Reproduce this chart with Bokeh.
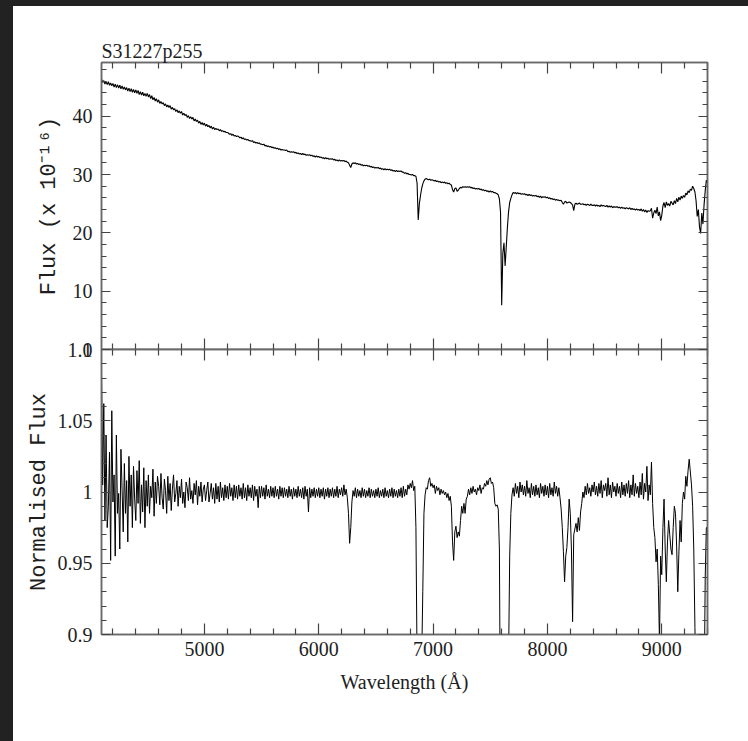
import numpy as np
from bokeh.plotting import figure
from bokeh.models import Range1d, LinearAxis, FixedTicker, CustomJSTickFormatter
from bokeh.layouts import column
from bokeh.embed import file_html
from bokeh.resources import INLINE

# ---------------- data ----------------
TITLE = "S31227p255"
X_MIN, X_MAX = 4100, 9400
WL_START, WL_STEP = 4100, 10

# observed flux (x 1e-16), sampled every 10 A from 4100 A
flux = [
    46.4, 45.8, 46.1, 45.5, 45.9, 45.4, 45.9, 45.3, 45.7, 45.2,
    45.6, 45.0, 45.5, 44.9, 45.4, 44.8, 45.3, 44.7, 45.2, 44.6,
    45.0, 44.5, 44.9, 44.3, 44.8, 44.2, 44.7, 44.1, 44.6, 44.0,
    44.5, 43.9, 44.4, 43.7, 44.2, 43.6, 44.1, 43.5, 43.9, 43.4,
    43.9, 43.3, 43.7, 43.0, 43.5, 42.8, 43.2, 42.6, 43.0, 42.4,
    42.8, 42.2, 42.5, 42.1, 42.3, 41.8, 42.1, 41.6, 41.9, 41.5,
    41.8, 41.2, 41.5, 41.1, 41.3, 40.8, 41.1, 40.6, 40.9, 40.5,
    40.8, 40.2, 40.5, 40.1, 40.3, 39.8, 40.1, 39.6, 39.9, 39.5,
    39.8, 39.2, 39.5, 39.1, 39.3, 38.8, 39.1, 38.6, 38.9, 38.5,
    38.8, 38.3, 38.6, 38.2, 38.4, 38.0, 38.3, 37.8, 38.1, 37.7,
    37.9, 37.7, 37.8, 37.5, 37.7, 37.4, 37.5, 37.3, 37.4, 37.2,
    37.2, 37.1, 36.9, 37.0, 36.7, 36.9, 36.6, 36.7, 36.5, 36.6,
    36.5, 36.3, 36.4, 36.1, 36.3, 36.0, 36.1, 35.9, 36.0, 35.8,
    35.8, 35.7, 35.8, 35.5, 35.6, 35.4, 35.5, 35.3, 35.4, 35.2,
    35.2, 35.1, 35.2, 34.9, 35.0, 34.8, 34.9, 34.7, 34.8, 34.6,
    34.7, 34.5, 34.6, 34.4, 34.5, 34.3, 34.4, 34.2, 34.3, 34.2,
    34.2, 34.1, 34.2, 33.9, 34.0, 33.8, 33.9, 33.8, 33.9, 33.7,
    33.8, 33.6, 33.7, 33.5, 33.6, 33.4, 33.6, 33.4, 33.5, 33.3,
    33.4, 33.3, 33.4, 33.2, 33.3, 33.1, 33.2, 33.0, 33.2, 33.0,
    33.1, 32.9, 33.0, 32.8, 32.9, 32.7, 32.9, 32.7, 32.8, 32.6,
    32.7, 32.6, 32.7, 32.5, 32.6, 32.4, 32.5, 32.3, 32.5, 32.3,
    32.4, 32.3, 32.4, 32.2, 32.3, 32.1, 32.0, 31.6, 31.2, 31.8,
    32.0, 31.9, 32.0, 31.8, 31.9, 31.7, 31.8, 31.6, 31.7, 31.5,
    31.6, 31.5, 31.6, 31.4, 31.5, 31.3, 31.4, 31.2, 31.3, 31.1,
    31.2, 31.1, 31.2, 31.0, 31.1, 30.9, 31.0, 30.8, 31.0, 30.8,
    30.9, 30.8, 30.9, 30.7, 30.8, 30.6, 30.7, 30.5, 30.7, 30.5,
    30.6, 30.5, 30.6, 30.4, 30.4, 30.2, 30.3, 30.1, 30.2, 30.0,
    30.0, 29.9, 30.0, 29.8, 29.8, 29.7, 28.5, 22.2, 25.0, 26.4,
    27.6, 28.4, 28.9, 29.2, 29.3, 29.2, 29.1, 29.2, 29.0, 29.1,
    29.0, 28.9, 29.0, 28.8, 28.9, 28.7, 28.8, 28.6, 28.7, 28.6,
    28.7, 28.5, 28.6, 28.4, 28.5, 28.3, 28.2, 27.4, 27.0, 27.6,
    27.7, 27.1, 27.3, 27.6, 27.8, 27.7, 27.9, 27.8, 27.9, 27.8,
    27.9, 27.8, 27.9, 27.7, 27.8, 27.6, 27.7, 27.5, 27.6, 27.5,
    27.6, 27.4, 27.5, 27.3, 27.4, 27.2, 27.3, 27.1, 27.2, 27.0,
    27.2, 27.0, 27.1, 26.9, 26.9, 26.8, 26.7, 26.5, 25.8, 23.5,
    7.6, 16.5, 18.3, 14.3, 17.6, 20.9, 23.6, 25.2, 25.9, 26.5,
    26.9, 26.8, 26.9, 26.7, 26.9, 26.7, 26.8, 26.6, 26.7, 26.6,
    26.7, 26.5, 26.6, 26.4, 26.6, 26.4, 26.5, 26.3, 26.4, 26.3,
    26.4, 26.2, 26.3, 26.1, 26.3, 26.0, 26.2, 26.1, 26.2, 26.0,
    26.1, 25.9, 26.0, 25.8, 25.9, 25.7, 25.8, 25.6, 25.7, 25.6,
    25.6, 25.5, 25.6, 25.2, 24.9, 25.3, 25.4, 25.1, 25.2, 25.3,
    25.2, 25.0, 24.8, 23.8, 24.9, 25.1, 24.9, 25.0, 25.1, 24.9,
    24.9, 25.0, 24.8, 24.9, 24.7, 24.9, 24.8, 24.7, 24.9, 24.7,
    24.7, 24.8, 24.6, 24.8, 24.6, 24.7, 24.5, 24.8, 24.6, 24.7,
    24.6, 24.5, 24.7, 24.4, 24.6, 24.4, 24.6, 24.3, 24.5, 24.4,
    24.4, 24.5, 24.3, 24.4, 24.2, 24.4, 24.2, 24.3, 24.1, 24.3,
    24.2, 24.1, 24.3, 24.0, 24.2, 24.0, 24.1, 23.9, 24.1, 23.9,
    24.0, 23.8, 24.1, 23.7, 24.0, 23.6, 23.9, 23.5, 23.8, 23.7,
    23.8, 24.2, 22.5, 23.4, 23.9, 23.3, 24.4, 22.9, 23.6, 22.1,
    23.0, 24.6, 25.2, 24.3, 25.3, 24.7, 25.0, 24.6, 25.4, 25.1,
    24.8, 25.5, 25.0, 25.9, 25.3, 26.1, 25.6, 26.3, 25.9, 26.4,
    26.1, 26.8, 26.5, 27.2, 26.9, 27.5, 27.3, 28.0, 27.6, 27.0,
    25.5, 22.8, 24.0, 21.0, 19.9, 23.4, 21.5, 24.8, 27.2, 29.0,
    28.6,
]

# normalised flux, sampled every 10 A from 4100 A
norm = [
    1.083, 1.005, 1.062, 0.980, 1.040, 0.975, 0.990, 1.028, 0.952, 1.057,
    0.993, 1.012, 0.955, 1.040, 0.985, 0.999, 0.960, 1.030, 1.002, 0.972,
    1.020, 0.985, 1.008, 0.965, 1.025, 0.990, 1.012, 0.975, 1.018, 0.995,
    0.980, 1.015, 0.992, 1.022, 0.978, 1.005, 0.986, 1.017, 0.975, 1.008,
    0.990, 1.012, 0.985, 1.004, 0.996, 1.016, 0.983, 1.007, 0.992, 1.011,
    1.004, 0.991, 1.013, 0.996, 0.988, 1.009, 1.001, 0.985, 1.011, 0.994,
    1.006, 0.987, 1.002, 1.012, 0.993, 0.999, 1.008, 0.990, 1.004, 0.996,
    1.009, 0.992, 1.000, 0.989, 1.007, 1.003, 0.994, 1.010, 0.995, 1.001,
    0.992, 1.006, 0.998, 1.008, 0.991, 1.004, 0.997, 1.007, 0.993, 1.002,
    1.005, 0.994, 1.001, 1.007, 0.993, 0.999, 1.006, 0.995, 1.003, 0.992,
    1.006, 0.995, 1.004, 0.993, 1.007, 0.996, 1.003, 0.994, 1.005, 0.996,
    1.004, 0.995, 1.006, 0.997, 1.003, 0.994, 1.005, 0.996, 1.004, 0.995,
    1.005, 0.997, 1.003, 0.995, 1.006, 0.996, 1.003, 0.994, 1.005, 0.997,
    1.003, 0.996, 1.005, 0.994, 1.004, 0.997, 1.002, 0.989, 1.004, 0.996,
    1.004, 0.997, 1.003, 0.995, 1.005, 0.997, 1.002, 0.996, 1.004, 0.997,
    1.003, 0.996, 1.004, 0.997, 1.002, 0.995, 1.004, 0.997, 1.003, 0.996,
    1.003, 0.997, 1.002, 0.996, 1.004, 0.997, 1.002, 0.995, 1.003, 0.997,
    1.002, 0.996, 1.004, 0.997, 1.002, 0.996, 1.003, 0.995, 1.004, 0.997,
    1.002, 0.986, 1.003, 0.996, 1.002, 0.997, 1.003, 0.996, 1.002, 0.997,
    1.003, 0.996, 1.002, 0.997, 1.003, 0.995, 1.002, 0.997, 1.003, 0.996,
    1.002, 0.997, 1.003, 0.996, 1.002, 0.997, 1.004, 0.996, 1.002, 0.998,
    1.003, 0.997, 1.005, 0.998, 1.002, 0.996, 0.985, 0.964, 0.975, 0.993,
    1.001, 0.997, 1.003, 0.996, 1.002, 0.997, 1.001, 0.996, 1.003, 0.997,
    1.002, 0.996, 1.001, 0.997, 1.003, 0.996, 1.002, 0.997, 1.001, 0.996,
    1.002, 0.997, 1.003, 0.996, 1.001, 0.997, 1.002, 0.996, 1.003, 0.997,
    1.001, 0.996, 1.002, 0.997, 1.003, 0.996, 1.002, 0.997, 1.001, 0.996,
    1.002, 0.997, 1.003, 0.996, 1.004, 0.997, 1.002, 0.998, 1.005, 1.002,
    1.006, 1.003, 1.008, 1.001, 1.004, 0.975, 0.880, 0.745, 0.840, 0.870,
    0.880, 0.930, 0.985, 0.998, 1.003, 1.002, 1.008, 1.010, 1.004, 1.006,
    1.003, 1.005, 0.999, 1.004, 1.001, 1.003, 0.998, 1.002, 0.999, 1.001,
    0.998, 1.000, 0.996, 0.999, 0.994, 0.997, 0.990, 0.965, 0.952, 0.972,
    0.976, 0.968, 0.972, 0.969, 0.980, 0.990, 0.985, 0.992, 0.985, 0.995,
    0.997, 1.002, 0.998, 1.003, 0.999, 1.004, 1.000, 1.002, 0.998, 1.003,
    1.001, 1.005, 0.999, 1.003, 1.002, 1.006, 1.004, 1.008, 1.005, 1.009,
    1.010, 1.006, 1.007, 1.003, 0.992, 0.990, 0.991, 0.988, 0.960, 0.820,
    0.280, 0.610, 0.680, 0.530, 0.650, 0.775, 0.880, 0.955, 0.985, 0.998,
    1.003, 0.997, 1.006, 0.999, 1.004, 0.996, 1.007, 1.000, 1.005, 0.998,
    1.004, 0.997, 1.008, 0.999, 1.003, 0.996, 1.006, 0.998, 1.004, 0.997,
    1.005, 0.998, 1.003, 0.996, 1.006, 0.999, 1.004, 0.997, 1.005, 0.998,
    1.004, 0.996, 1.006, 0.998, 1.003, 0.997, 1.007, 0.999, 1.004, 0.997,
    1.003, 0.996, 0.988, 0.975, 0.958, 0.937, 0.955, 0.961, 0.975, 0.995,
    0.985, 0.960, 0.909, 0.970, 0.974, 0.978, 0.972, 0.982, 0.973, 0.986,
    0.992, 1.000, 0.996, 1.004, 0.998, 1.006, 0.999, 1.003, 0.997, 1.005,
    1.000, 1.007, 0.998, 1.004, 0.997, 1.006, 0.999, 1.008, 0.996, 1.005,
    1.001, 1.006, 0.997, 1.010, 0.998, 1.005, 0.996, 1.007, 1.000, 1.004,
    0.997, 1.006, 0.999, 1.004, 0.996, 1.007, 0.998, 1.005, 0.997, 1.006,
    0.999, 1.008, 0.996, 1.005, 0.998, 1.012, 0.997, 1.006, 0.999, 1.004,
    0.996, 1.007, 0.998, 1.013, 0.995, 1.006, 1.000, 1.018, 0.994, 1.005,
    0.998, 1.021, 0.992, 0.975, 0.968, 0.951, 0.960, 0.935, 0.895, 0.955,
    0.942, 0.975, 0.995, 0.960, 0.937, 0.965, 0.980, 0.970, 0.960, 0.956,
    0.975, 0.990, 0.985, 0.962, 0.930, 0.958, 0.980, 0.965, 0.992, 1.000,
    0.995, 1.011, 1.004, 1.015, 1.023, 1.014, 1.005, 0.990, 0.960, 0.905,
    0.850, 0.760, 0.800, 0.700, 0.680, 0.760, 0.720, 0.850, 0.940, 0.975,
    0.975,
]

wl_flux = [WL_START + WL_STEP * i for i in range(len(flux))]
wl_norm = [WL_START + WL_STEP * i for i in range(len(norm))]

# axes / ticks
X_MAJOR = [5000, 6000, 7000, 8000, 9000]
X_MAJOR_LABELS = ["5000", "6000", "7000", "8000", "9000"]
X_MINOR = [4200, 4400, 4600, 4800, 5200, 5400, 5600, 5800, 6200, 6400, 6600, 6800,
           7200, 7400, 7600, 7800, 8200, 8400, 8600, 8800, 9200, 9400]

FLUX_MIN, FLUX_MAX = 0, 49.2
FLUX_TICKS = [0, 10, 20, 30, 40]
FLUX_TICK_LABELS = ["0", "10", "20", "30", "40"]
FLUX_MINOR = [2, 4, 6, 8, 12, 14, 16, 18, 22, 24, 26, 28, 32, 34, 36, 38, 42, 44, 46, 48]

NORM_MIN, NORM_MAX = 0.9, 1.1
NORM_TICKS = [0.9, 0.95, 1.0, 1.05, 1.1]
NORM_TICK_LABELS = ["0.9", "0.95", "1", "1.05", "1.1"]
NORM_MINOR = [0.91, 0.92, 0.93, 0.94, 0.96, 0.97, 0.98, 0.99,
              1.01, 1.02, 1.03, 1.04, 1.06, 1.07, 1.08, 1.09]

SERIF = "Liberation Serif"
YLAB_FONT = "Liberation Mono"
TXT = "#1e1e1e"
FRAME = "#6a6a6a"
TICKC = "#444444"
OVERLAP = 12   # extra canvas below/above the shared boundary so its labels are not cut


def style_axis(ax, major_in, minor_in, labels):
    ax.major_tick_in = major_in
    ax.major_tick_out = 0
    ax.minor_tick_in = minor_in
    ax.minor_tick_out = 0
    ax.axis_line_color = FRAME
    ax.axis_line_width = 1.5
    ax.major_tick_line_color = TICKC
    ax.minor_tick_line_color = TICKC
    ax.major_tick_line_width = 1.2
    ax.minor_tick_line_width = 1.2
    if labels:
        ax.major_label_text_font = SERIF
        ax.major_label_text_font_size = "20px"
        ax.major_label_text_color = TXT
    else:
        ax.major_label_text_font_size = "0px"
        ax.major_label_text_alpha = 0
        ax.major_label_standoff = 0


def label_formatter(vals, texts):
    return CustomJSTickFormatter(args=dict(tick_vals=vals, tick_texts=texts),
                                 code="const i = tick_vals.indexOf(tick); return i >= 0 ? tick_texts[i] : '';")


def style_ylabel(ax, text, standoff):
    ax.axis_label = text
    ax.axis_label_text_font = YLAB_FONT
    ax.axis_label_text_font_size = "22px"
    ax.axis_label_text_font_style = "normal"
    ax.axis_label_text_color = TXT
    ax.axis_label_standoff = standoff


x_range = Range1d(X_MIN, X_MAX)
x_ticker = FixedTicker(ticks=X_MAJOR, minor_ticks=X_MINOR)
flux_ticker = FixedTicker(ticks=FLUX_TICKS, minor_ticks=FLUX_MINOR)
norm_ticker = FixedTicker(ticks=NORM_TICKS, minor_ticks=NORM_MINOR)

# ---------------- upper panel ----------------
top = figure(width=735, height=56 + 287 + OVERLAP, output_backend="svg", toolbar_location=None,
             x_range=x_range, y_range=Range1d(FLUX_MIN, FLUX_MAX),
             x_axis_location=None, y_axis_location=None,
             min_border_left=88, min_border_right=41, min_border_top=56, min_border_bottom=OVERLAP,
             background_fill_color="white", border_fill_color="white",
             outline_line_color=FRAME, outline_line_width=1.5)
top.grid.visible = False
top.title.text = TITLE
top.title.align = "left"
top.title.text_font = SERIF
top.title.text_font_size = "20px"
top.title.text_font_style = "normal"
top.title.text_color = TXT
top.title.standoff = 2
top.title.offset = 0

ax = LinearAxis(ticker=flux_ticker, formatter=label_formatter(FLUX_TICKS, FLUX_TICK_LABELS))
style_axis(ax, 9, 5, True)
ax.major_label_standoff = 9
style_ylabel(ax, "Flux (x 10⁻¹⁶)", 8)
top.add_layout(ax, "left")
ax = LinearAxis(ticker=flux_ticker)
style_axis(ax, 9, 5, False)
top.add_layout(ax, "right")
ax = LinearAxis(ticker=x_ticker)
style_axis(ax, 11, 6, False)
top.add_layout(ax, "above")
ax = LinearAxis(ticker=x_ticker)
style_axis(ax, 11, 6, False)
top.add_layout(ax, "below")

top.line(wl_flux, flux, line_color="black", line_width=1.1)

# ---------------- lower panel ----------------
bot = figure(width=735, height=OVERLAP + 285 + 107, output_backend="svg", toolbar_location=None,
             x_range=x_range, y_range=Range1d(NORM_MIN, NORM_MAX),
             x_axis_location=None, y_axis_location=None,
             min_border_left=88, min_border_right=41, min_border_top=OVERLAP, min_border_bottom=107,
             background_fill_color="white", border_fill_alpha=0,
             outline_line_color=FRAME, outline_line_width=1.5)
bot.grid.visible = False
bot.margin = (-2 * OVERLAP, 0, 0, 0)

ax = LinearAxis(ticker=norm_ticker, formatter=label_formatter(NORM_TICKS, NORM_TICK_LABELS))
style_axis(ax, 9, 5, True)
ax.major_label_standoff = 9
style_ylabel(ax, "Normalised Flux", 3)
bot.add_layout(ax, "left")
ax = LinearAxis(ticker=norm_ticker)
style_axis(ax, 9, 5, False)
bot.add_layout(ax, "right")
ax = LinearAxis(ticker=x_ticker)
style_axis(ax, 11, 6, False)
bot.add_layout(ax, "above")
ax = LinearAxis(ticker=x_ticker, formatter=label_formatter(X_MAJOR, X_MAJOR_LABELS),
                axis_label="Wavelength (Å)")
style_axis(ax, 11, 6, True)
ax.major_label_standoff = 7
ax.axis_label_text_font = SERIF
ax.axis_label_text_font_size = "20px"
ax.axis_label_text_font_style = "normal"
ax.axis_label_text_color = TXT
ax.axis_label_standoff = 12
bot.add_layout(ax, "below")

bot.line(wl_norm, norm, line_color="black", line_width=1.0)

inner = column(top, bot, width=735, height=735, margin=(6, 0, 0, 13),
               styles={"background-color": "white"})
layout = column(inner, width=748, height=741, styles={"background-color": "#222222"})

open("out.html", "w").write(file_html(layout, INLINE))
